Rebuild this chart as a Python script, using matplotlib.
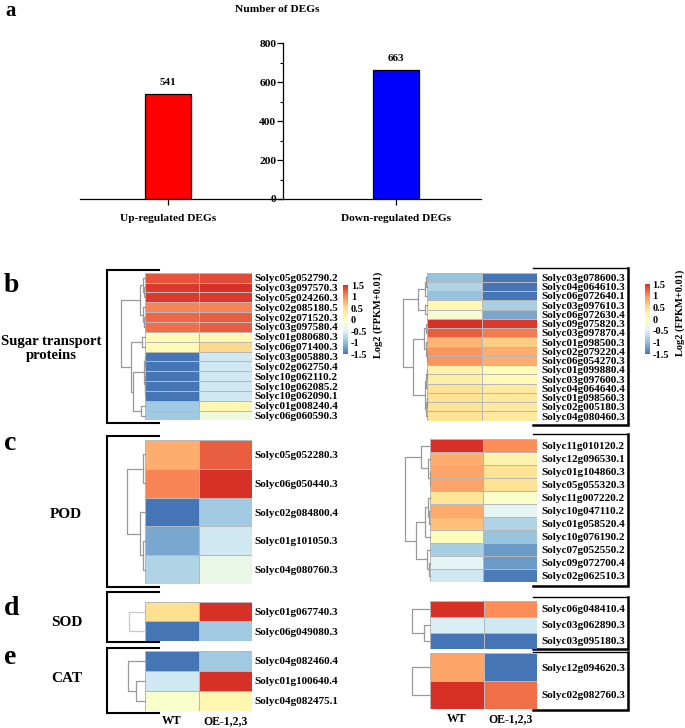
import numpy as np
import matplotlib
matplotlib.use("Agg")
import matplotlib.pyplot as plt
from matplotlib.colors import LinearSegmentedColormap
from matplotlib.ticker import MultipleLocator

plt.rcParams["font.family"] = ["Liberation Serif", "DejaVu Serif"]
plt.rcParams["font.weight"] = "bold"
plt.rcParams["axes.unicode_minus"] = False

W, H = 685, 728

# ---------------- data ----------------
deg_groups = ["Up-regulated DEGs", "Down-regulated DEGs"]
deg_counts = [541, 663]
deg_colors = ["#FF0000", "#0000FF"]

heat_cols = ["WT", "OE-1,2,3"]
cbar_ticks = [1.5, 1, 0.5, 0, -0.5, -1, -1.5]

# b: sugar transport proteins
sugar_up_genes = ["Solyc05g052790.2", "Solyc03g097570.3", "Solyc05g024260.3", "Solyc02g085180.5",
                  "Solyc02g071520.3", "Solyc03g097580.4", "Solyc01g080680.3", "Solyc06g071400.3",
                  "Solyc03g005880.3", "Solyc02g062750.4", "Solyc10g062110.2", "Solyc10g062085.2",
                  "Solyc10g062090.1", "Solyc01g008240.4", "Solyc06g060590.3"]
sugar_up_wt = [1.3, 1.45, 1.45, 1.05, 1.2, 1.15, 0.08, 0.1, -1.5, -1.5, -1.5, -1.5, -1.5, -0.9, -0.9]
sugar_up_oe = [1.35, 1.5, 1.45, 1.05, 1.25, 1.25, 0.12, 0.55, -0.6, -0.6, -0.6, -0.6, -0.6, 0.12, -0.25]
sugar_up_tree = (((0, (1, 2, 0.03), 0.1), (3, (4, 5, 0.03), 0.07), 0.2),
                 ((6, 7, 0.14), (((8, 9, 0.02), (10, (11, 12, 0.01), 0.02), 0.03), (13, 14, 0.18), 0.48), 0.58),
                 1.0)

sugar_dn_genes = ["Solyc03g078600.3", "Solyc04g064610.3", "Solyc06g072640.1", "Solyc03g097610.3",
                  "Solyc06g072630.4", "Solyc09g075820.3", "Solyc03g097870.4", "Solyc01g098500.3",
                  "Solyc02g079220.4", "Solyc06g054270.3", "Solyc01g099880.4", "Solyc03g097600.3",
                  "Solyc04g064640.4", "Solyc01g098560.3", "Solyc02g005180.3", "Solyc04g080460.3"]
sugar_dn_wt = [-0.95, -0.8, -0.95, 0.15, -0.2, 1.5, 1.25, 0.75, 0.95, 0.95, 0.2, 0.25, 0.45, 0.45, 0.45, 0.45]
sugar_dn_oe = [-1.5, -1.5, -1.5, -0.85, -1.15, 1.45, 1.1, 0.6, 0.8, 0.8, 0.05, 0.1, 0.35, 0.35, 0.35, 0.35]
sugar_dn_tree = ((((0, 1, 0.04), 2, 0.07), (3, 4, 0.1), 0.35),
                 (((5, 6, 0.05), (7, (8, 9, 0.02), 0.04), 0.12),
                  (((10, 11, 0.02), 12, 0.04), ((13, 14, 0.01), 15, 0.03), 0.1), 0.56),
                 1.0)

# c: POD
pod_up_genes = ["Solyc05g052280.3", "Solyc06g050440.3", "Solyc02g084800.4", "Solyc01g101050.3",
                "Solyc04g080760.3"]
pod_up_wt = [0.8, 1.05, -1.5, -1.15, -0.8]
pod_up_oe = [1.25, 1.5, -0.9, -0.6, -0.35]
pod_up_tree = ((0, 1, 0.1), (2, (3, 4, 0.1), 0.28), 1.0)

pod_dn_genes = ["Solyc11g010120.2", "Solyc12g096530.1", "Solyc01g104860.3", "Solyc05g055320.3",
                "Solyc11g007220.2", "Solyc10g047110.2", "Solyc01g058520.4", "Solyc10g076190.2",
                "Solyc07g052550.2", "Solyc09g072700.4", "Solyc02g062510.3"]
pod_dn_wt = [1.5, 0.8, 0.85, 0.85, 0.4, 0.82, 0.7, 0.05, -0.85, -0.45, -0.6]
pod_dn_oe = [1.0, 0.2, 0.45, 0.45, -0.1, -0.45, -0.8, -0.95, -1.25, -1.25, -1.45]
pod_dn_tree = ((0, (1, (2, 3, 0.02), 0.07), 0.36),
               (((4, (5, 6, 0.04), 0.1), 7, 0.2), (8, (9, 10, 0.04), 0.12), 0.56),
               1.0)

# d: SOD
sod_up_genes = ["Solyc01g067740.3", "Solyc06g049080.3"]
sod_up_wt = [0.5, -1.5]
sod_up_oe = [1.5, -0.9]
sod_up_tree = (0, 1, 1.0)

sod_dn_genes = ["Solyc06g048410.4", "Solyc03g062890.3", "Solyc03g095180.3"]
sod_dn_wt = [1.5, -0.55, -1.5]
sod_dn_oe = [1.0, -0.6, -1.5]
sod_dn_tree = (0, (1, 2, 0.36), 1.0)

# e: CAT
cat_up_genes = ["Solyc04g082460.4", "Solyc01g100640.4", "Solyc04g082475.1"]
cat_up_wt = [-1.5, -0.6, -0.1]
cat_up_oe = [-0.9, 1.5, 0.15]
cat_up_tree = (0, (1, 2, 0.54), 1.0)

cat_dn_genes = ["Solyc12g094620.3", "Solyc02g082760.3"]
cat_dn_wt = [0.85, 1.5]
cat_dn_oe = [-1.5, 1.15]
cat_dn_tree = (0, 1, 1.0)

cmap = LinearSegmentedColormap.from_list(
    "pheat", ["#4575B4", "#91BFDB", "#E0F3F8", "#FFFFBF", "#FEE090", "#FC8D59", "#D73027"])


# ---------------- helpers ----------------
def px_axes(fig, left, top, right, bottom):
    return fig.add_axes([left / W, 1 - bottom / H, (right - left) / W, (bottom - top) / H])


def draw_tree(ax, node, color):
    if isinstance(node, int):
        return node + 0.5, 0.0
    left, right, h = node
    yl, hl = draw_tree(ax, left, color)
    yr, hr = draw_tree(ax, right, color)
    ax.plot([hl, h, h, hr], [yl, yl, yr, yr], color=color, lw=0.9, clip_on=False)
    return (yl + yr) / 2, h


def heat_panel(fig, box, dendro_w, genes, wt, oe, tree, label_pad, xlabels=False, tree_color="#999999"):
    left, top, right, bottom = box
    n = len(genes)
    ax = px_axes(fig, left, top, right, bottom)
    vals = np.column_stack([wt, oe])
    ax.pcolormesh(vals, cmap=cmap, vmin=-1.5, vmax=1.5, edgecolors="#b8b8b8", linewidth=0.6)
    ax.set_xlim(0, 2)
    ax.set_ylim(n, 0)
    for s in ax.spines.values():
        s.set_visible(False)
    ax.yaxis.tick_right()
    ax.set_yticks(np.arange(n) + 0.5)
    ax.set_yticklabels(genes, fontsize=8)
    ax.tick_params(axis="y", length=0, pad=label_pad)
    if xlabels:
        ax.set_xticks([0.5, 1.5])
        ax.set_xticklabels(heat_cols, fontsize=8.5)
        ax.tick_params(axis="x", length=0, pad=3)
    else:
        ax.set_xticks([])

    dax = px_axes(fig, left - dendro_w, top, left, bottom)
    dax.set_xlim(1, 0)
    dax.set_ylim(n, 0)
    dax.axis("off")
    draw_tree(dax, tree, tree_color)
    return ax


def colorbar(fig, box):
    cax = px_axes(fig, *box)
    sm = plt.cm.ScalarMappable(cmap=cmap, norm=plt.Normalize(-1.5, 1.5))
    cb = fig.colorbar(sm, cax=cax)
    cb.outline.set_visible(False)
    cb.set_ticks(cbar_ticks)
    cb.set_ticklabels([f"{t:g}" for t in cbar_ticks])
    cb.ax.tick_params(length=0, pad=2, labelsize=7.5)


# ---------------- figure ----------------
fig = plt.figure(figsize=(W / 100, H / 100), dpi=100, facecolor="white")

canvas = fig.add_axes([0, 0, 1, 1])
canvas.set_xlim(0, W)
canvas.set_ylim(H, 0)
canvas.axis("off")

# panel a: bar chart with centred y axis
ax = px_axes(fig, 80, 43.3, 480.7, 199)
xpos = np.arange(len(deg_counts))
ax.bar(xpos, deg_counts, width=0.2, color=deg_colors, edgecolor="black", linewidth=0.9)
ax.set_xlim(-0.387, 1.371)
ax.set_ylim(0, 800)
ax.spines["top"].set_visible(False)
ax.spines["right"].set_visible(False)
ax.spines["left"].set_position(("data", 0.505))
for s in ("left", "bottom"):
    ax.spines[s].set_linewidth(0.9)
ax.yaxis.set_major_locator(MultipleLocator(200))
ax.yaxis.set_minor_locator(MultipleLocator(100))
ax.tick_params(axis="y", which="major", length=4, width=0.9, labelsize=8.2, pad=1)
ax.tick_params(axis="y", which="minor", length=2.5, width=0.8)
ax.set_xticks(xpos)
ax.set_xticklabels(deg_groups, fontsize=8.2)
ax.tick_params(axis="x", length=4.5, width=0.9, pad=6)
for x, v in zip(xpos, deg_counts):
    ax.annotate(str(v), (x, v), xytext=(0, 5), textcoords="offset points",
                ha="center", va="bottom", fontsize=8)
fig.text(277 / W, 1 - 9.5 / H, "Number of DEGs", ha="center", va="center", fontsize=8.2)

# heatmaps (left: up in OE, right: down)
heat_panel(fig, (145, 272.7, 252, 420.5), 24.3, sugar_up_genes, sugar_up_wt, sugar_up_oe, sugar_up_tree, 1.5)
heat_panel(fig, (427, 272.7, 537, 420.7), 24.4, sugar_dn_genes, sugar_dn_wt, sugar_dn_oe, sugar_dn_tree, 3)
heat_panel(fig, (145, 440, 252, 584), 17.7, pod_up_genes, pod_up_wt, pod_up_oe, pod_up_tree, 1.5)
heat_panel(fig, (430, 439.3, 536.5, 582), 25, pod_dn_genes, pod_dn_wt, pod_dn_oe, pod_dn_tree, 3.5)
heat_panel(fig, (145, 601.7, 252, 641), 16, sod_up_genes, sod_up_wt, sod_up_oe, sod_up_tree, 1.5,
           tree_color="#c8c8c8")
heat_panel(fig, (430, 600.7, 537, 648.7), 18, sod_dn_genes, sod_dn_wt, sod_dn_oe, sod_dn_tree, 3)
heat_panel(fig, (145, 650.7, 252, 710.7), 16.7, cat_up_genes, cat_up_wt, cat_up_oe, cat_up_tree, 1.5,
           xlabels=True)
heat_panel(fig, (430, 653.3, 537, 708.7), 17.7, cat_dn_genes, cat_dn_wt, cat_dn_oe, cat_dn_tree, 3,
           xlabels=True)

colorbar(fig, (343.3, 285, 348, 354))
colorbar(fig, (645, 284, 649.5, 354))
canvas.text(378, 315, "Log2 (FPKM+0.01)", rotation=90, ha="center", va="center", fontsize=7.5)
canvas.text(680, 313, "Log2 (FPKM+0.01)", rotation=90, ha="center", va="center", fontsize=7.5)

# brackets around the left heatmaps
for top, bottom in [(270, 423), (436, 586.7), (592, 641.7), (648, 712.5)]:
    canvas.plot([159, 107, 107, 159], [top, top, bottom, bottom], color="black", lw=1.5,
                solid_joinstyle="miter")
# boxes around the right gene labels
for top, bottom in [(267.7, 425), (434, 586), (596.7, 649), (652.3, 710)]:
    canvas.plot([533, 628], [top, top], color="black", lw=1.0)
    canvas.plot([628, 628, 533], [top, bottom, bottom], color="black", lw=1.8,
                solid_joinstyle="miter")

# panel letters and group names
canvas.text(5, 15.5, "a", ha="left", va="baseline", fontsize=15)
for letter, x, y in [("b", 4, 291.7), ("c", 4, 450), ("d", 4, 615), ("e", 4, 664)]:
    canvas.text(x, y, letter, ha="left", va="baseline", fontsize=20)
canvas.text(51.5, 348, "Sugar transport\nproteins", ha="center", va="center", fontsize=10.5,
            linespacing=1.1)
canvas.text(65.5, 515, "POD", ha="center", va="center", fontsize=11)
canvas.text(66.7, 622, "SOD", ha="center", va="center", fontsize=11)
canvas.text(66.7, 679, "CAT", ha="center", va="center", fontsize=11)

fig.savefig("out.png", dpi=100, facecolor="white")
